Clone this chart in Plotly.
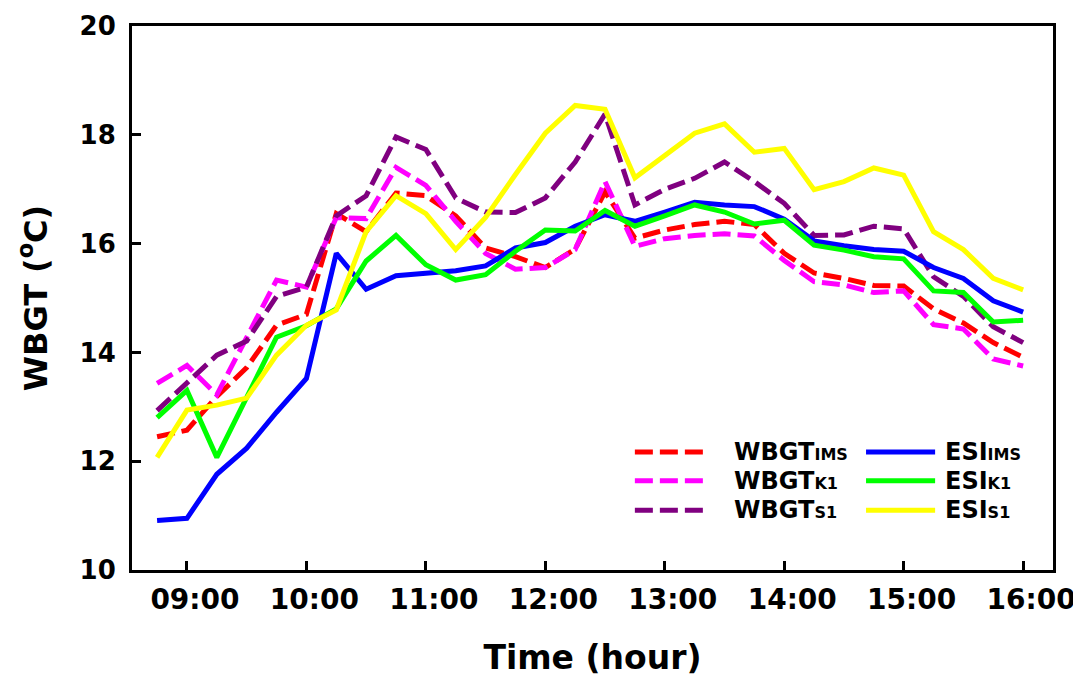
import plotly.graph_objects as go

times = ["08:45", "09:00", "09:15", "09:30", "09:45", "10:00", "10:15", "10:30", "10:45", "11:00",
         "11:15", "11:30", "11:45", "12:00", "12:15", "12:30", "12:45", "13:00", "13:15", "13:30",
         "13:45", "14:00", "14:15", "14:30", "14:45", "15:00", "15:15", "15:30", "15:45", "16:00"]

wbgt_ims = [12.45, 12.57, 13.19, 13.72, 14.50, 14.70, 16.55, 16.22, 16.93, 16.88,
            16.51, 15.92, 15.76, 15.56, 15.90, 16.95, 16.10, 16.25, 16.35, 16.41,
            16.35, 15.82, 15.46, 15.36, 15.23, 15.22, 14.80, 14.54, 14.18, 13.91]
wbgt_k1 = [13.43, 13.76, 13.22, 14.30, 15.33, 15.20, 16.48, 16.46, 17.40, 17.07,
           16.41, 15.82, 15.53, 15.56, 15.89, 17.14, 15.95, 16.09, 16.15, 16.18,
           16.14, 15.69, 15.30, 15.24, 15.10, 15.13, 14.51, 14.43, 13.88, 13.75]
wbgt_s1 = [12.93, 13.45, 13.95, 14.21, 15.03, 15.20, 16.51, 16.88, 17.96, 17.73,
           16.84, 16.58, 16.57, 16.84, 17.50, 18.38, 16.71, 17.00, 17.20, 17.50,
           17.14, 16.74, 16.15, 16.16, 16.32, 16.27, 15.39, 15.03, 14.47, 14.18]
esi_ims = [10.91, 10.95, 11.76, 12.24, 12.90, 13.52, 15.82, 15.16, 15.41, 15.46,
           15.50, 15.59, 15.92, 16.02, 16.32, 16.53, 16.41, 16.58, 16.76, 16.71,
           16.68, 16.45, 16.05, 15.96, 15.89, 15.86, 15.56, 15.36, 14.95, 14.74]
esi_k1 = [12.80, 13.30, 12.07, 13.19, 14.28, 14.49, 14.80, 15.68, 16.15, 15.61,
          15.33, 15.43, 15.86, 16.25, 16.23, 16.61, 16.32, 16.51, 16.71, 16.58,
          16.36, 16.43, 15.97, 15.88, 15.76, 15.72, 15.13, 15.10, 14.56, 14.59]
esi_s1 = [12.07, 12.94, 13.03, 13.16, 13.95, 14.50, 14.78, 16.22, 16.88, 16.55,
          15.89, 16.48, 17.27, 18.03, 18.54, 18.47, 17.21, 17.63, 18.03, 18.20,
          17.68, 17.75, 16.99, 17.14, 17.39, 17.26, 16.22, 15.89, 15.36, 15.15]

x_tick_hours = [9, 10, 11, 12, 13, 14, 15, 16]
x_tick_labels = ["09:00", "10:00", "11:00", "12:00", "13:00", "14:00", "15:00", "16:00"]
y_ticks = [10, 12, 14, 16, 18, 20]

x = [int(t[:2]) + int(t[3:]) / 60 for t in times]

FONT = "DejaVu Sans, Liberation Sans, Arial, sans-serif"

series = [
    ("WBGT", "IMS", wbgt_ims, "#FF0000", "dash"),
    ("WBGT", "K1", wbgt_k1, "#FF00FF", "dash"),
    ("WBGT", "S1", wbgt_s1, "#800080", "dash"),
    ("ESI", "IMS", esi_ims, "#0000FF", "solid"),
    ("ESI", "K1", esi_k1, "#00FF00", "solid"),
    ("ESI", "S1", esi_s1, "#FFFF00", "solid"),
]

DASH = "18px,7px"
LW = 5

fig = go.Figure()
for base, sub, vals, color, style in series:
    fig.add_trace(go.Scatter(
        x=x, y=vals, mode="lines",
        name=f"{base}{sub}",
        line=dict(color=color, width=LW, dash=DASH if style == "dash" else "solid"),
        showlegend=False,
    ))

# manual legend (two columns, lower right inside plot)
rows_y = [0.217, 0.164, 0.110]
shapes = []
annotations = []
for i, (base, sub, vals, color, style) in enumerate(series):
    col = 0 if base == "WBGT" else 1
    row = i % 3
    x0, x1, xt = (0.546, 0.624, 0.651) if col == 0 else (0.797, 0.872, 0.881)
    shapes.append(dict(type="line", xref="paper", yref="paper",
                       x0=x0, x1=x1, y0=rows_y[row], y1=rows_y[row],
                       line=dict(color=color, width=LW,
                                 dash=DASH if style == "dash" else "solid")))
    annotations.append(dict(
        xref="paper", yref="paper", x=xt, y=rows_y[row],
        xanchor="left", yanchor="middle", showarrow=False,
        text=f"{base}<span style='font-size:16px'>{sub}</span>",
        font=dict(family=FONT, size=24, color="black", weight="bold"),
    ))

# the page body adds an 8px offset, so the figure is sized/margined to compensate
fig.update_layout(
    width=1073, height=669,
    margin=dict(l=124, r=28, t=18, b=107),
    paper_bgcolor="white", plot_bgcolor="white",
    shapes=shapes, annotations=annotations,
    xaxis=dict(
        range=[8.54, 16.25], automargin=False,
        tickvals=x_tick_hours, ticktext=x_tick_labels,
        ticks="inside", ticklen=9, tickwidth=3, tickcolor="black",
        showline=True, linewidth=3, linecolor="black", mirror=True,
        showgrid=False, zeroline=False,
        tickfont=dict(family=FONT, size=28, color="black", weight="bold"),
        ticklabelshift=8, ticklabelstandoff=2,
        title=dict(text="Time (hour)", standoff=32,
                   font=dict(family=FONT, size=33, color="black", weight="bold")),
    ),
    yaxis=dict(
        range=[10, 20], automargin=False,
        tickvals=y_ticks,
        ticks="inside", ticklen=9, tickwidth=3, tickcolor="black",
        showline=True, linewidth=3, linecolor="black", mirror=True,
        showgrid=False, zeroline=False,
        tickfont=dict(family=FONT, size=26, color="black", weight="bold"),
        ticklabelstandoff=8,
        title=dict(text="WBGT (<sup>o</sup>C)", standoff=23,
                   font=dict(family=FONT, size=32, color="black", weight="bold")),
    ),
)

fig.write_html("out.html")
